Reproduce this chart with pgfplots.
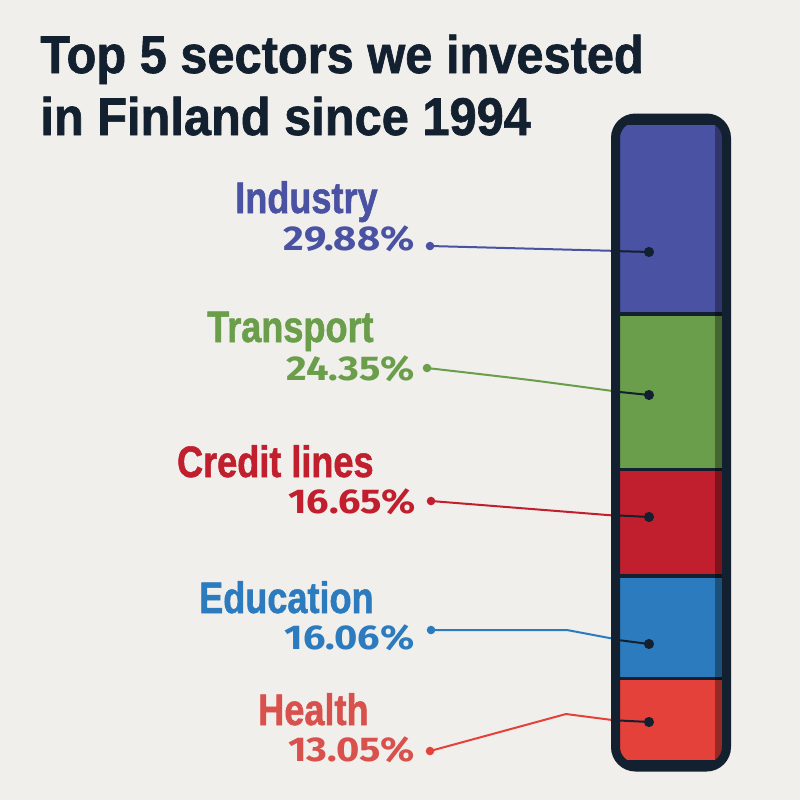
\documentclass[border=0pt]{standalone}
\usepackage{pgfplots}
\pgfplotsset{compat=1.18}
\usepackage{fontspec}
\setmainfont{Liberation Sans}
\newfontfamily\titlefont[FakeStretch=0.92,BoldFeatures={FakeBold=1.2}]{Liberation Sans}
\newfontfamily\labfont[FakeStretch=0.82,BoldFeatures={FakeBold=1.2}]{Liberation Sans}
\newfontfamily\pctfont[FakeStretch=1.16]{Fira Sans}
\definecolor{bg}{HTML}{F0EFEB}
\definecolor{navy}{HTML}{13202F}
\definecolor{cInd}{HTML}{4A52A3}
\definecolor{cTra}{HTML}{6A9E4B}
\definecolor{cCre}{HTML}{C11F2E}
\definecolor{cEdu}{HTML}{2C7BBE}
\definecolor{cHea}{HTML}{E3413A}
\definecolor{cHeaT}{HTML}{D9514D}
\begin{document}
\begin{tikzpicture}
\fill[bg] (0pt,0pt) rectangle (400pt,-400pt);
\begin{scope}[x=0.5pt,y=-0.5pt]
\node[anchor=base west,inner sep=0,text=navy] at (40,73) {\titlefont\bfseries\fontsize{26.5pt}{31pt}\selectfont Top 5 sectors we invested};
\node[anchor=base west,inner sep=0,text=navy] at (40,135) {\titlefont\bfseries\fontsize{26.5pt}{31pt}\selectfont in Finland since 1994};
% category labels
\node[anchor=base east,inner sep=0,text=cInd] at (378,213) {\labfont\bfseries\fontsize{22pt}{26pt}\selectfont Industry};
\node[anchor=base east,inner sep=0,text=cTra] at (374,342) {\labfont\bfseries\fontsize{22pt}{26pt}\selectfont Transport};
\node[anchor=base east,inner sep=0,text=cCre] at (374,477) {\labfont\bfseries\fontsize{22pt}{26pt}\selectfont Credit lines};
\node[anchor=base east,inner sep=0,text=cEdu] at (374,613) {\labfont\bfseries\fontsize{22pt}{26pt}\selectfont Education};
\node[anchor=base east,inner sep=0,text=cHeaT] at (369,725) {\labfont\bfseries\fontsize{22pt}{26pt}\selectfont Health};
% percentages
\node[anchor=base east,inner sep=0,text=cInd] at (415,250) {\pctfont\bfseries\fontsize{17.2pt}{20pt}\selectfont 29.88\%};
\node[anchor=base east,inner sep=0,text=cTra] at (415,380) {\pctfont\bfseries\fontsize{17.2pt}{20pt}\selectfont 24.35\%};
\node[anchor=base east,inner sep=0,text=cCre] at (416,513) {\pctfont\bfseries\fontsize{17.2pt}{20pt}\selectfont 16.65\%};
\node[anchor=base east,inner sep=0,text=cEdu] at (415,649) {\pctfont\bfseries\fontsize{17.2pt}{20pt}\selectfont 16.06\%};
\node[anchor=base east,inner sep=0,text=cHeaT] at (415,761) {\pctfont\bfseries\fontsize{17.2pt}{20pt}\selectfont 13.05\%};
\end{scope}
% leader lines (picture pixel coordinates)
\begin{axis}[at={(0pt,-400pt)},anchor=south west,scale only axis,width=400pt,height=400pt,
  xmin=0,xmax=800,ymin=0,ymax=800,y dir=reverse,hide axis,clip=false]
\addplot[cInd,line width=1pt,mark=*,mark indices={1},mark size=1.6pt] coordinates {(430,246) (620,251)};
\addplot[cTra,line width=1pt,smooth,mark=*,mark indices={1},mark size=1.6pt] coordinates {(427,368) (530,380) (620,392)};
\addplot[cCre,line width=1pt,mark=*,mark indices={1},mark size=1.6pt] coordinates {(431,501) (620,516)};
\addplot[cEdu,line width=1pt,mark=*,mark indices={1},mark size=1.6pt] coordinates {(431,630) (567,630) (620,640)};
\addplot[cHea,line width=1pt,mark=*,mark indices={1},mark size=1.6pt] coordinates {(430,751) (566,714) (620,721)};
\end{axis}
% stacked bar
\begin{scope}
\clip[rounded corners=10pt] (307.75pt,-59pt) rectangle (363.25pt,-383.5pt);
\begin{axis}[at={(310pt,-381pt)},anchor=south west,scale only axis,width=51pt,height=319.5pt,
  xmin=-0.5,xmax=0.5,ymin=0,ymax=99.99,hide axis,clip=false,
  ybar stacked,bar width=60pt]
\addplot[fill=cHea,draw=navy,line width=1.75pt] coordinates {(0,13.05)};
\addplot[fill=cEdu,draw=navy,line width=1.75pt] coordinates {(0,16.06)};
\addplot[fill=cCre,draw=navy,line width=1.75pt] coordinates {(0,16.65)};
\addplot[fill=cTra,draw=navy,line width=1.75pt] coordinates {(0,24.35)};
\addplot[fill=cInd,draw=navy,line width=1.75pt] coordinates {(0,29.88)};
\end{axis}
\fill[black,opacity=0.35] (357.5pt,-50pt) rectangle (366pt,-390pt);
\begin{axis}[at={(310pt,-381pt)},anchor=south west,scale only axis,width=51pt,height=319.5pt,
  xmin=-0.5,xmax=0.5,ymin=0,ymax=99.99,hide axis,clip=false]
\addplot[navy,line width=1pt,mark=*,mark indices={2},mark size=2pt] coordinates {(-0.6,79.97) (-0.216,79.81)};
\addplot[navy,line width=1pt,mark=*,mark indices={2},mark size=2pt] coordinates {(-0.6,58.06) (-0.216,57.43)};
\addplot[navy,line width=1pt,mark=*,mark indices={2},mark size=2pt] coordinates {(-0.6,38.65) (-0.216,38.34)};
\addplot[navy,line width=1pt,mark=*,mark indices={2},mark size=2pt] coordinates {(-0.6,19.25) (-0.216,18.47)};
\addplot[navy,line width=1pt,mark=*,mark indices={2},mark size=2pt] coordinates {(-0.6,6.57) (-0.216,6.26)};
\end{axis}
\end{scope}
\draw[navy,line width=4.5pt,rounded corners=10pt] (307.75pt,-59pt) rectangle (363.25pt,-383.5pt);
\pgfresetboundingbox
\useasboundingbox (0pt,0pt) rectangle (400pt,-400pt);
\end{tikzpicture}
\end{document}
